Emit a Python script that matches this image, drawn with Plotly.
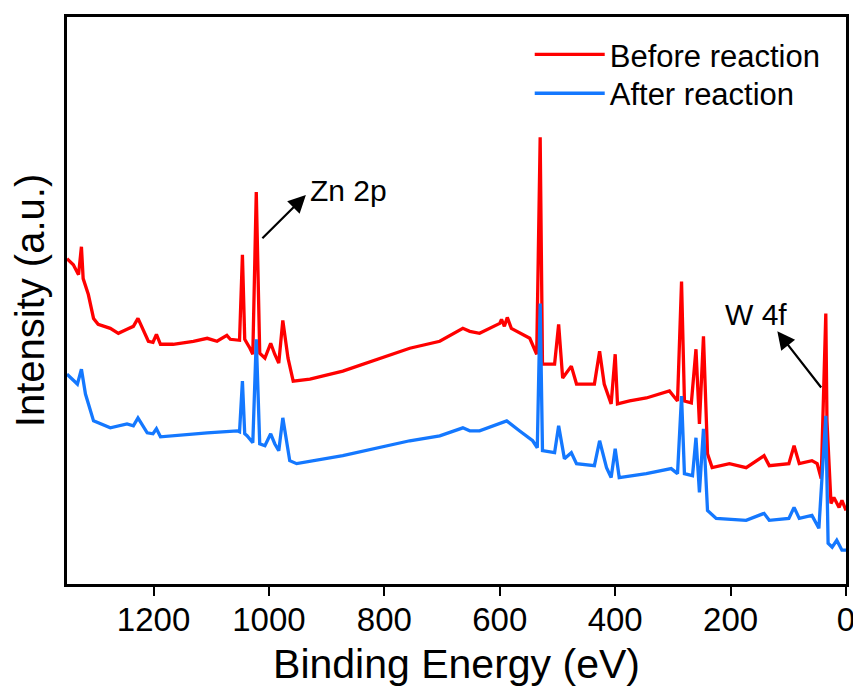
import plotly.graph_objects as go

# ---- data (binding energy in eV, intensity in arbitrary units) ----
before_be = [1350, 1339, 1330, 1325, 1322, 1313, 1304, 1296, 1275, 1261, 1246, 1235, 1227, 1218,
             1209, 1201, 1195, 1188, 1166, 1131, 1107, 1090, 1073, 1067, 1051, 1046, 1042, 1033,
             1028, 1022, 1016, 1007, 997, 990, 983, 976, 967, 958, 929, 872, 756, 704, 664, 652,
             635, 600, 597, 592, 587, 580, 571, 561, 548, 536, 530, 526, 505, 498, 491, 476, 467,
             436, 427, 419, 407, 400, 396, 375, 346, 306, 292, 285, 280, 268, 260, 254, 247, 240,
             232, 202, 173, 142, 133, 99, 90, 81, 59, 50, 43, 35, 33, 26, 21, 12, 7, 0]
before_int = [328, 322, 312, 340, 308, 292, 268, 262, 258, 253, 257, 260, 268, 257,
              245, 244, 252, 242, 242, 245, 248, 245, 251, 247, 246, 332, 247, 238,
              232, 395, 233, 228, 243, 232, 223, 266, 228, 205, 207, 215, 238, 245, 258, 255,
              253, 263, 267, 260, 269, 258, 255, 252, 248, 232, 450, 222, 222, 262, 208, 220, 202,
              202, 235, 202, 182, 232, 182, 185, 188, 195, 185, 305, 185, 183, 237, 162, 250, 132,
              118, 122, 118, 130, 120, 122, 140, 122, 125, 122, 107, 273, 165, 82, 88, 78, 85, 75]

after_be = [1350, 1332, 1325, 1318, 1304, 1275, 1246, 1235, 1227, 1211, 1201, 1195, 1188, 1131,
            1107, 1055, 1051, 1046, 1042, 1038, 1028, 1022, 1016, 1007, 997, 990, 983, 976, 964,
            952, 872, 756, 704, 664, 652, 635, 588, 566, 543, 535, 530, 526, 505, 498, 488, 476,
            467, 436, 427, 415, 407, 400, 393, 346, 303, 292, 285, 280, 266, 260, 254, 247, 240,
            225, 173, 142, 133, 99, 90, 81, 59, 47, 35, 31, 24, 16, 7, 0]
after_int = [212, 202, 217, 192, 165, 158, 162, 160, 168, 153, 152, 157, 149, 152,
             153, 155, 154, 205, 152, 150, 143, 247, 142, 140, 152, 142, 135, 168, 125,
             122, 130, 145, 150, 158, 155, 155, 165, 155, 145, 138, 283, 135, 133, 160, 127, 133,
             122, 120, 145, 118, 108, 137, 108, 112, 117, 112, 190, 112, 110, 148, 93, 157, 75,
             67, 65, 72, 65, 67, 78, 67, 70, 57, 170, 42, 38, 45, 35, 35]

series_names = ["Before reaction", "After reaction"]
x_ticks = [0, 200, 400, 600, 800, 1000, 1200]

# annotation anchors (BE, intensity)
zn_label = ("Zn 2p", 862, 397)
zn_arrow_tip = (936, 392)
zn_arrow_tail = (1014, 347)
w_label = ("W 4f", 156, 272)
w_arrow_tip = (119, 255)
w_arrow_tail = (41, 197)

RED = "#FF0000"
BLUE = "#1478FF"
FONT = "Arial, 'Liberation Sans', sans-serif"

fig = go.Figure()
fig.add_trace(go.Scatter(x=before_be, y=before_int, mode="lines", name=series_names[0],
                         line=dict(color=RED, width=3.3), legend="legend"))
fig.add_trace(go.Scatter(x=after_be, y=after_int, mode="lines", name=series_names[1],
                         line=dict(color=BLUE, width=3.3), legend="legend2"))

for (txt, bx, by), tip, tail in [(zn_label, zn_arrow_tip, zn_arrow_tail),
                                 (w_label, w_arrow_tip, w_arrow_tail)]:
    fig.add_annotation(x=bx, y=by, text=txt, showarrow=False,
                       font=dict(family=FONT, size=30, color="black"))
    fig.add_annotation(x=tip[0], y=tip[1], ax=tail[0], ay=tail[1], axref="x", ayref="y",
                       text="", showarrow=True, arrowhead=2, arrowsize=1.6, arrowwidth=2.2,
                       arrowcolor="black")

legend_style = dict(xanchor="left", yanchor="top",
                    font=dict(family=FONT, size=31, color="black"),
                    bgcolor="rgba(0,0,0,0)", itemwidth=70)

# the page body adds an 8px offset; the figure is sized to fit the 861x693 window
fig.update_layout(
    width=853, height=685,
    margin=dict(l=59, r=14, t=6, b=109),
    paper_bgcolor="white", plot_bgcolor="white",
    font=dict(family=FONT, color="black"),
    showlegend=True,
    legend=dict(x=0.594, y=0.981, **legend_style),
    legend2=dict(x=0.594, y=0.9125, **legend_style),
)
fig.update_xaxes(range=[1350, 0], tickvals=x_ticks, ticktext=[str(v) for v in x_ticks],
                 showline=True, linecolor="black", linewidth=2.5, mirror=True,
                 ticks="outside", ticklen=9, tickwidth=2, tickcolor="black",
                 tickfont=dict(family=FONT, size=33, color="black"), ticklabelstandoff=-4,
                 showgrid=False, zeroline=False,
                 title=dict(text="Binding Energy (eV)", font=dict(family=FONT, size=41, color="black"),
                            standoff=12))
fig.update_yaxes(range=[1, 571], showticklabels=False, ticks="",
                 showline=True, linecolor="black", linewidth=2.5, mirror=True,
                 showgrid=False, zeroline=False,
                 title=dict(text="Intensity (a.u.)", font=dict(family=FONT, size=40, color="black"),
                            standoff=23))

fig.write_html("out.html")
